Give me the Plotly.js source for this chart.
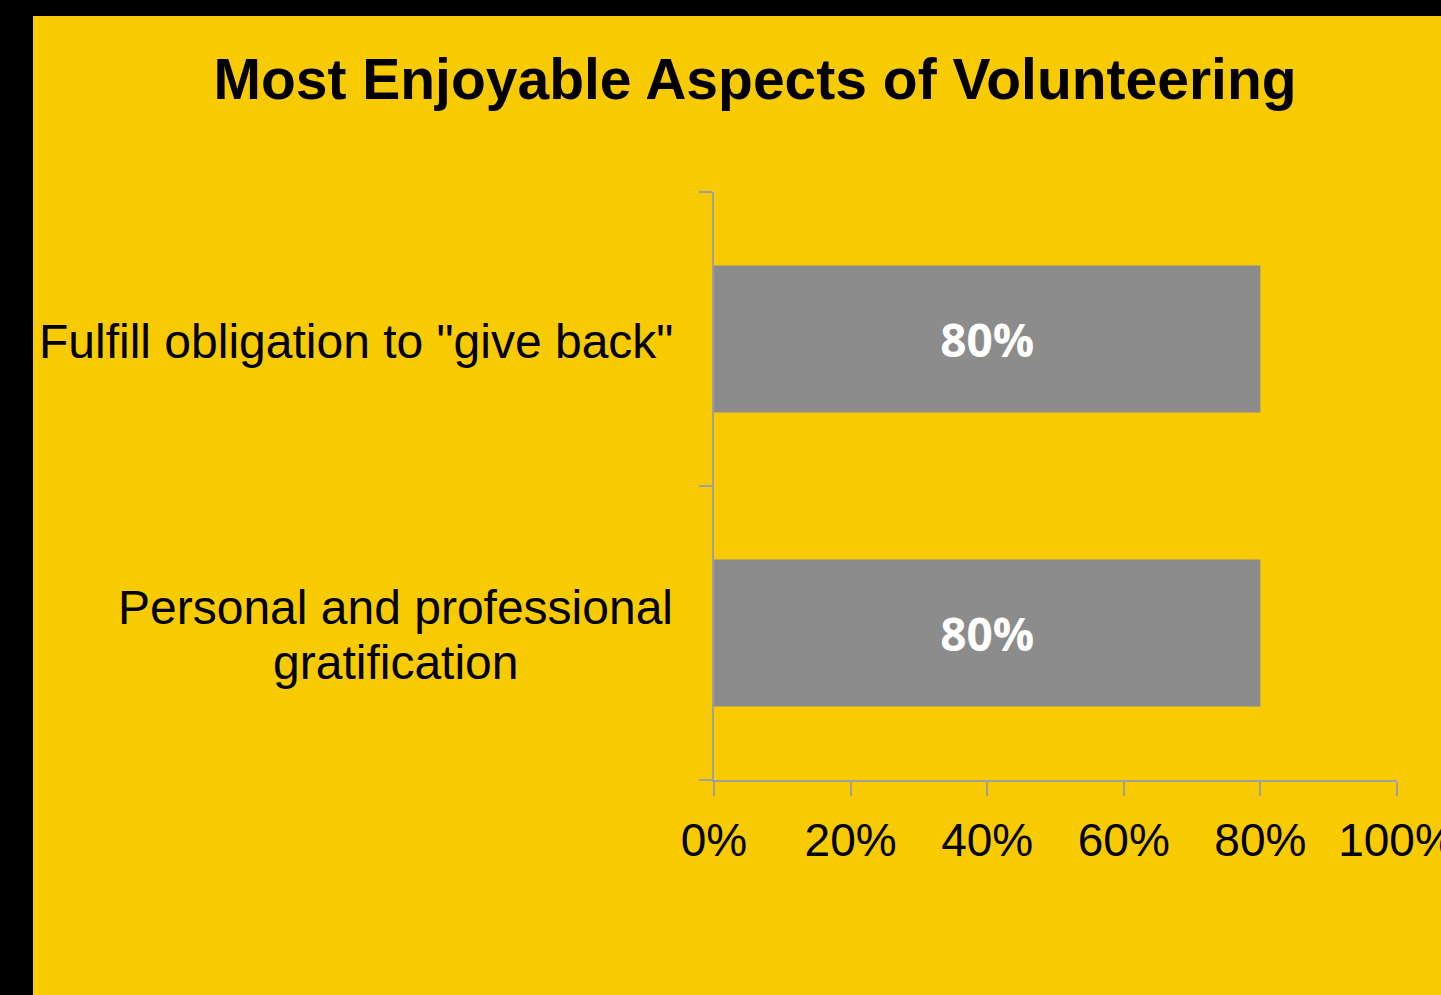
<!DOCTYPE html>
<html>
<head>
<meta charset="utf-8">
<script src="https://cdn.plot.ly/plotly-3.0.1.min.js"></script>
<style>
  html, body { margin: 0; padding: 0; background: #000; width: 1441px; height: 995px; overflow: hidden; }
  #chart { position: absolute; left: 33px; top: 16px; width: 1460px; height: 979px; }
</style>
</head>
<body>
<div id="chart"></div>
<script>
const categories = ["Personal and professional<br>gratification", "Fulfill obligation to \"give back\""];
const values = [80, 80];
const valueLabels = ["80%", "80%"];
const tickVals = [0, 20, 40, 60, 80, 100];
const tickText = ["0%", "20%", "40%", "60%", "80%", "100%"];

const LABEL_FONT = "Liberation Sans, Arial, sans-serif";
const LABEL_SIZE = 48;
const LINE_STEP = 55;

function measure(txt) {
  const c = document.createElement("canvas").getContext("2d");
  c.font = LABEL_SIZE + "px 'Liberation Sans', Arial, sans-serif";
  return c.measureText(txt).width;
}

const trace = {
  type: "bar",
  orientation: "h",
  y: categories,
  x: values,
  text: valueLabels,
  width: 0.5,
  marker: { color: "#8C8C8C", line: { width: 0 } },
  texttemplate: "%{text}",
  textposition: "inside",
  insidetextanchor: "middle",
  textangle: 0,
  textfont: { family: "Open Sans, Arial, sans-serif", size: 46, color: "#FFFFFF", weight: "bold" },
  hoverinfo: "skip"
};

// category labels as centered text blocks right-aligned to the axis
const annotations = [];
categories.forEach(function (cat) {
  const lines = cat.split("<br>");
  const maxW = Math.max.apply(null, lines.map(measure));
  const n = lines.length;
  lines.forEach(function (ln, i) {
    annotations.push({
      xref: "paper", yref: "y",
      x: 0, y: cat,
      xanchor: "center", yanchor: "middle",
      xshift: -41 - maxW / 2,
      yshift: ((n - 1) / 2 - i) * LINE_STEP - 2,
      text: ln,
      showarrow: false,
      font: { family: LABEL_FONT, size: LABEL_SIZE, color: "#000000" }
    });
  });
});

const layout = {
  width: 1460,
  height: 979,
  paper_bgcolor: "#F8CB00",
  plot_bgcolor: "#F8CB00",
  margin: { l: 681, r: 96, t: 176, b: 215 },
  showlegend: false,
  title: {
    text: "<b>Most Enjoyable Aspects of Volunteering</b>",
    font: { family: LABEL_FONT, size: 57, color: "#000000" },
    xref: "container", x: (755 - 33) / 1460, xanchor: "center",
    yref: "container", y: 1 - 63 / 979, yanchor: "middle"
  },
  xaxis: {
    range: [0, 100],
    tickvals: tickVals,
    ticktext: tickText,
    ticks: "outside",
    ticklen: 14,
    tickwidth: 2,
    tickcolor: "#A0A0A0",
    showline: true,
    linecolor: "#A0A0A0",
    linewidth: 2,
    showgrid: false,
    zeroline: false,
    fixedrange: true,
    ticklabeloverflow: "allow",
    ticklabelstandoff: 5,
    tickfont: { family: LABEL_FONT, size: 46, color: "#000000" }
  },
  yaxis: {
    type: "category",
    range: [-0.5, 1.5],
    ticks: "outside",
    tickson: "boundaries",
    ticklen: 13,
    tickwidth: 2,
    tickcolor: "#A0A0A0",
    showline: true,
    linecolor: "#A0A0A0",
    linewidth: 2,
    showgrid: false,
    zeroline: false,
    fixedrange: true,
    showticklabels: false
  },
  annotations: annotations,
  bargap: 0.5
};

Plotly.newPlot("chart", [trace], layout, { displayModeBar: false, staticPlot: true });
</script>
</body>
</html>
